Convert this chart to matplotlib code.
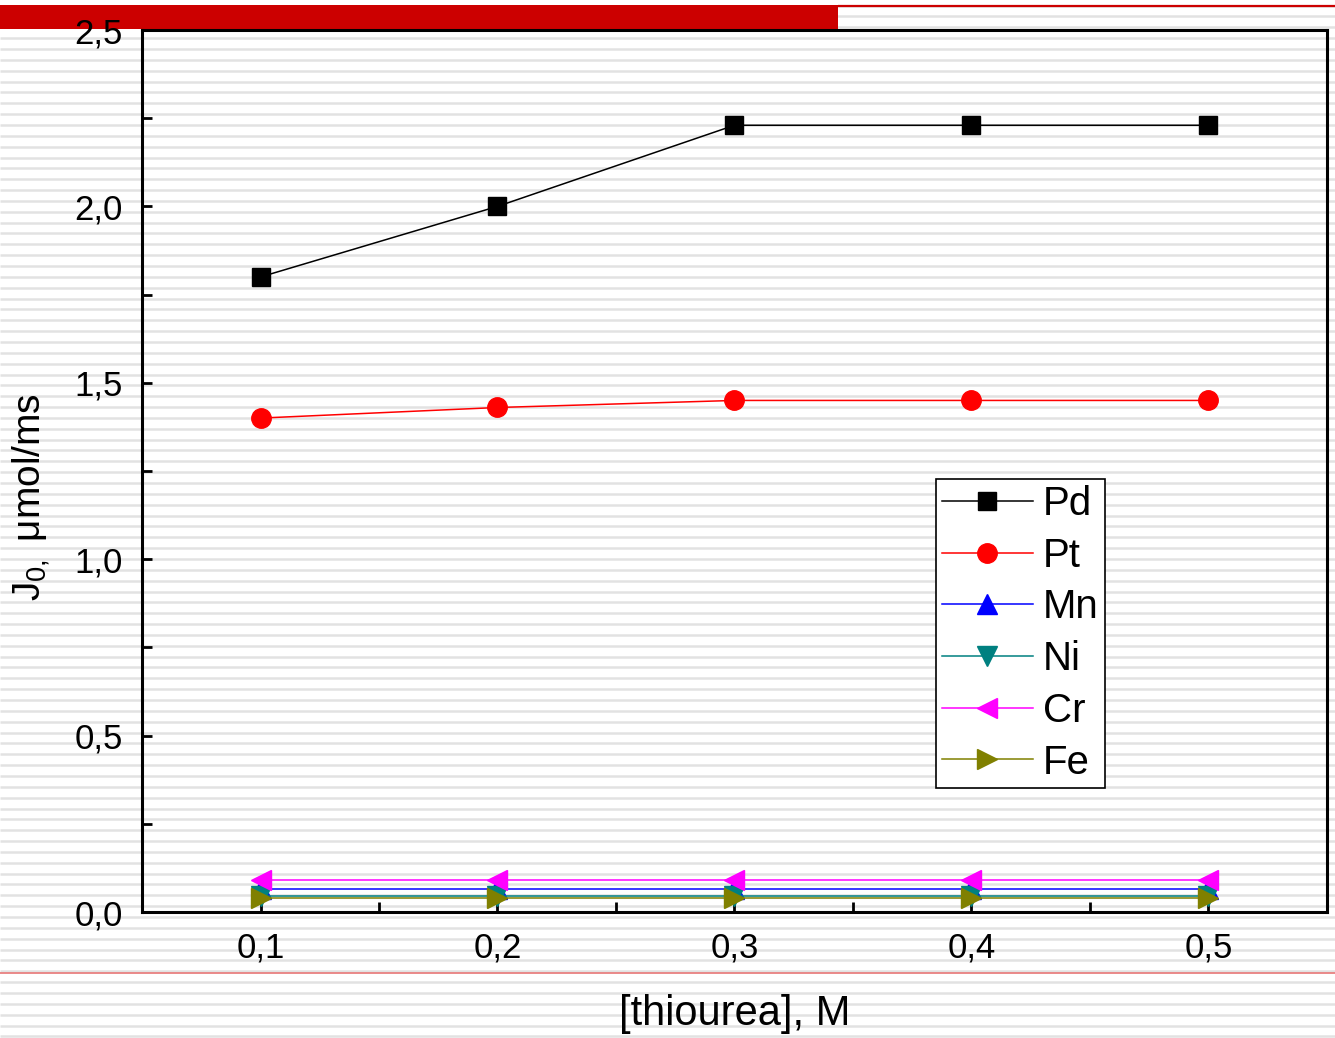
import numpy as np
import matplotlib
matplotlib.use("Agg")
import matplotlib.pyplot as plt
from matplotlib.ticker import MultipleLocator

plt.rcParams['font.family'] = ['Liberation Sans', 'DejaVu Sans']
plt.rcParams['mathtext.fontset'] = 'custom'
plt.rcParams['mathtext.rm'] = 'Liberation Sans'

# ---- data ----
thiourea = [0.1, 0.2, 0.3, 0.4, 0.5]
Pd = [1.80, 2.00, 2.23, 2.23, 2.23]
Pt = [1.40, 1.43, 1.45, 1.45, 1.45]
Mn = [0.065, 0.065, 0.065, 0.065, 0.065]
Ni = [0.044, 0.044, 0.044, 0.044, 0.044]
Cr = [0.090, 0.090, 0.090, 0.090, 0.090]
Fe = [0.041, 0.041, 0.041, 0.041, 0.041]
series_names = ["Pd", "Pt", "Mn", "Ni", "Cr", "Fe"]
xtick_vals = [0.1, 0.2, 0.3, 0.4, 0.5]
xtick_labels = ["0,1", "0,2", "0,3", "0,4", "0,5"]
ytick_vals = [0.0, 0.5, 1.0, 1.5, 2.0, 2.5]
ytick_labels = ["0,0", "0,5", "1,0", "1,5", "2,0", "2,5"]

W, H = 1335, 1038
fig = plt.figure(figsize=(W / 100, H / 100), dpi=100)
fig.patch.set_facecolor('white')

# background (slide-like striped backdrop)
bg = fig.add_axes([0, 0, 1, 1], zorder=-10)
bg.set_xlim(0, W)
bg.set_ylim(H, 0)
bg.axis('off')
stripes = np.arange(5.6, H, 10.85)
bg.hlines(stripes, 0, W, color='#e2e2e2', linewidth=1.8, zorder=1)
bg.fill_between([0, 838], 5, 28.5, color='#cc0000', linewidth=0, zorder=3)
bg.hlines([5.8], 838, W, color='#cc0000', linewidth=1.6, zorder=3)
bg.hlines([972.5], 0, W, color='#e88080', linewidth=1.3, zorder=3)

ax = fig.add_axes([142 / W, 1 - 912 / H, (1327 - 142) / W, (912 - 30) / H])
ax.patch.set_alpha(0)

styles = [
    (Pd, 'black', 's', 13),
    (Pt, 'red', 'o', 14),
    (Mn, 'blue', '^', 15),
    (Ni, '#008080', 'v', 15),
    (Cr, '#ff00ff', '<', 15),
    (Fe, '#808000', '>', 15),
]
for (vals, col, mk, ms), name in zip(styles, series_names):
    ax.plot(thiourea, vals, color=col, marker=mk, markersize=ms,
            linewidth=1.1, label=name, clip_on=False)

ax.set_xlim(0.05, 0.55)
ax.set_ylim(0, 2.5)
ax.set_xticks(xtick_vals)
ax.set_xticklabels(xtick_labels)
ax.set_yticks(ytick_vals)
ax.set_yticklabels(ytick_labels)
ax.xaxis.set_minor_locator(MultipleLocator(0.05))
ax.yaxis.set_minor_locator(MultipleLocator(0.25))

for s in ax.spines.values():
    s.set_linewidth(2.2)
ax.tick_params(which='both', direction='in', width=2, labelsize=25,
               top=False, right=False)
ax.tick_params(which='major', length=7)
ax.tick_params(which='minor', length=7)
ax.tick_params(axis='x', pad=14)
ax.tick_params(axis='y', pad=14)

ax.set_xlabel('[thiourea], M', fontsize=30)
ax.xaxis.set_label_coords(0.5, -0.093)
ax.set_ylabel('J$_{\\mathregular{0,}}$ μmol/ms', fontsize=28)
ax.yaxis.label.set_va('center')
ax.yaxis.set_label_coords(-0.094, 0.47)

leg = ax.legend(loc='upper left', bbox_to_anchor=((936 - 142) / (1327 - 142), 1 - (479 - 30) / (912 - 30)),
                fontsize=29, frameon=True, fancybox=False, handlelength=2.25,
                handletextpad=0.25, labelspacing=0.34, borderpad=0.15,
                borderaxespad=0, markerscale=1.0)
leg.get_frame().set_edgecolor('black')
leg.get_frame().set_linewidth(1.2)
leg.get_frame().set_facecolor('white')
leg.get_frame().set_alpha(1)

fig.savefig('out.png', dpi=100)
